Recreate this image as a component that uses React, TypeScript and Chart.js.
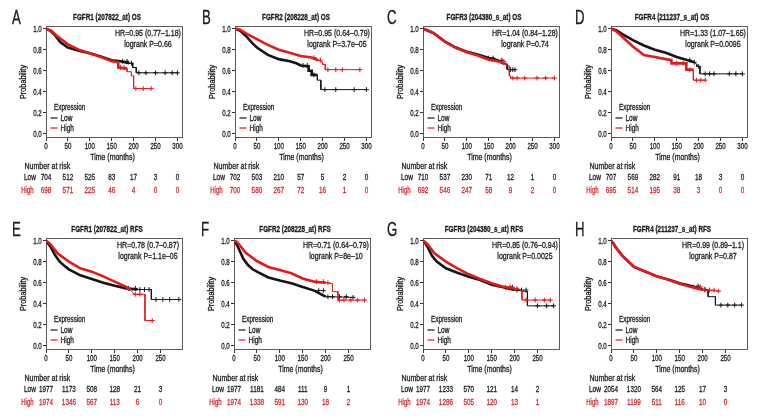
import React, { useEffect, useRef } from "react";
import { Chart, registerables } from "chart.js";
Chart.register(...registerables);

type Pt = [number, number];

const FONT = "'Liberation Sans', Arial, sans-serif";

// ---------------- data ----------------
const LETTERS = ["A", "B", "C", "D", "E", "F", "G", "H"];
const TITLES = [
  "FGFR1 (207822_at) OS",
  "FGFR2 (208228_at) OS",
  "FGFR3 (204380_s_at) OS",
  "FGFR4 (211237_s_at) OS",
  "FGFR1 (207822_at) RFS",
  "FGFR2 (208228_at) RFS",
  "FGFR3 (204380_s_at) RFS",
  "FGFR4 (211237_s_at) RFS",
];
const HR_LABELS = [
  "HR=0.95 (0.77\u20131.18)",
  "HR=0.95 (0.64\u20130.79)",
  "HR=1.04 (0.84\u20131.28)",
  "HR=1.33 (1.07\u20131.65)",
  "HR=0.78 (0.7\u20130.87)",
  "HR=0.71 (0.64\u20130.79)",
  "HR=0.85 (0.76\u20130.94)",
  "HR=0.99 (0.89\u20131.1)",
];
const P_LABELS = [
  "logrank P=0.66",
  "logrank P=3.7e\u201305",
  "logrank P=0.74",
  "logrank P=0.0095",
  "logrank P=1.1e\u201305",
  "logrank P=8e\u201310",
  "logrank P=0.0025",
  "logrank P=0.87",
];
const OS_X_TICKS = [0, 50, 100, 150, 200, 250, 300];
const RFS_X_TICKS = [0, 50, 100, 150, 200, 250];
const Y_TICKS = [0, 0.2, 0.4, 0.6, 0.8, 1.0];
const LEGEND_TITLE = "Expression";
const GROUPS = ["Low", "High"];
const X_LABEL = "Time (months)";
const Y_LABEL = "Probability";
const RISK_TITLE = "Number at risk";

// Panel A: FGFR1 OS
const A_LOW: Pt[] = [[0, 1], [10, 0.98], [20, 0.94], [33, 0.87], [50, 0.82], [75, 0.79], [100, 0.765], [125, 0.735], [150, 0.7], [170, 0.69], [190, 0.67], [198, 0.67], [198, 0.63], [206, 0.63], [206, 0.58], [300, 0.58]];
const A_HIGH: Pt[] = [[0, 1], [12, 0.98], [25, 0.93], [50, 0.85], [75, 0.8], [100, 0.765], [125, 0.73], [150, 0.69], [165, 0.68], [165, 0.63], [185, 0.62], [185, 0.59], [195, 0.59], [195, 0.55], [200, 0.55], [200, 0.43], [240, 0.43]];
const A_LOW_CENS = [175, 185, 195, 212, 228, 250, 272, 288, 300];
const A_HIGH_CENS = [170, 178, 205, 222, 240];
const A_RISK_LOW = [704, 512, 525, 83, 17, 3, 0];
const A_RISK_HIGH = [698, 571, 225, 46, 4, 0, 0];

// Panel B: FGFR2 OS
const B_LOW: Pt[] = [[0, 1], [12, 0.98], [25, 0.93], [40, 0.86], [50, 0.82], [75, 0.75], [100, 0.71], [125, 0.69], [140, 0.67], [150, 0.65], [168, 0.64], [168, 0.6], [175, 0.6], [175, 0.56], [188, 0.56], [188, 0.51], [196, 0.51], [196, 0.42], [300, 0.42]];
const B_HIGH: Pt[] = [[0, 1], [12, 0.99], [25, 0.955], [50, 0.9], [75, 0.845], [100, 0.8], [125, 0.77], [150, 0.74], [175, 0.725], [190, 0.7], [200, 0.68], [200, 0.66], [206, 0.66], [206, 0.61], [285, 0.61]];
const B_LOW_CENS = [155, 165, 180, 205, 230, 272, 300];
const B_HIGH_CENS = [180, 195, 212, 230, 245, 285];
const B_RISK_LOW = [702, 503, 210, 57, 5, 2, 0];
const B_RISK_HIGH = [700, 580, 267, 72, 16, 1, 0];

// Panel C: FGFR3 OS
const C_LOW: Pt[] = [[0, 1], [12, 0.98], [25, 0.955], [50, 0.877], [75, 0.82], [100, 0.78], [125, 0.755], [150, 0.72], [170, 0.7], [185, 0.665], [192, 0.665], [192, 0.61], [210, 0.61]];
const C_HIGH: Pt[] = [[0, 1], [12, 0.98], [25, 0.955], [50, 0.875], [75, 0.818], [100, 0.775], [125, 0.745], [150, 0.705], [175, 0.685], [190, 0.66], [197, 0.645], [197, 0.55], [200, 0.55], [200, 0.53], [300, 0.53]];
const C_LOW_CENS = [150, 160, 180, 200, 205, 210];
const C_HIGH_CENS = [185, 205, 215, 232, 260, 280, 300];
const C_RISK_LOW = [710, 537, 230, 71, 12, 1, 0];
const C_RISK_HIGH = [692, 546, 247, 58, 9, 2, 0];

// Panel D: FGFR4 OS
const D_LOW: Pt[] = [[0, 1], [12, 0.985], [25, 0.95], [50, 0.89], [75, 0.84], [100, 0.8], [125, 0.77], [150, 0.73], [175, 0.7], [190, 0.68], [196, 0.66], [196, 0.64], [203, 0.64], [203, 0.57], [300, 0.57]];
const D_HIGH: Pt[] = [[0, 1], [12, 0.975], [25, 0.925], [50, 0.83], [75, 0.75], [100, 0.73], [125, 0.71], [138, 0.7], [138, 0.67], [172, 0.67], [172, 0.61], [188, 0.61], [188, 0.51], [215, 0.51]];
const D_LOW_CENS = [180, 190, 200, 215, 225, 235, 270, 285, 300];
const D_HIGH_CENS = [150, 165, 180, 195, 205, 215];
const D_RISK_LOW = [707, 569, 282, 91, 18, 3, 0];
const D_RISK_HIGH = [695, 514, 195, 38, 3, 0, 0];

// Panel E: FGFR1 RFS
const E_LOW: Pt[] = [[0, 1], [5, 0.97], [10, 0.94], [20, 0.86], [30, 0.8], [40, 0.76], [50, 0.727], [75, 0.67], [100, 0.635], [125, 0.6], [150, 0.57], [175, 0.546], [200, 0.535], [230, 0.535], [230, 0.44], [290, 0.44]];
const E_HIGH: Pt[] = [[0, 1], [5, 0.985], [10, 0.965], [25, 0.88], [50, 0.8], [75, 0.737], [100, 0.705], [125, 0.66], [150, 0.61], [175, 0.56], [185, 0.53], [192, 0.49], [216, 0.49], [216, 0.24], [232, 0.24]];
const E_LOW_CENS = [180, 195, 205, 215, 225, 240, 255, 270, 290];
const E_HIGH_CENS = [195, 205, 232];
const E_RISK_LOW = [1977, 1173, 508, 128, 21, 3];
const E_RISK_HIGH = [1974, 1346, 567, 113, 6, 0];

// Panel F: FGFR2 RFS
const F_LOW: Pt[] = [[0, 1], [5, 0.97], [10, 0.927], [20, 0.83], [30, 0.77], [40, 0.73], [50, 0.705], [75, 0.65], [100, 0.62], [125, 0.594], [150, 0.56], [175, 0.525], [200, 0.467], [260, 0.46]];
const F_HIGH: Pt[] = [[0, 1], [5, 0.99], [10, 0.97], [25, 0.886], [50, 0.806], [75, 0.75], [100, 0.72], [125, 0.69], [150, 0.64], [175, 0.61], [200, 0.6], [215, 0.59], [215, 0.515], [227, 0.515], [227, 0.435], [285, 0.435]];
const F_LOW_CENS = [185, 195, 205, 215, 230, 245, 260];
const F_HIGH_CENS = [180, 195, 205, 230, 240, 255, 270, 285];
const F_RISK_LOW = [1977, 1181, 484, 111, 9, 1];
const F_RISK_HIGH = [1974, 1338, 591, 130, 18, 2];

// Panel G: FGFR3 RFS
const G_LOW: Pt[] = [[0, 1], [5, 0.975], [10, 0.94], [20, 0.854], [30, 0.8], [50, 0.737], [75, 0.695], [100, 0.657], [125, 0.625], [150, 0.58], [175, 0.556], [200, 0.53], [228, 0.515], [228, 0.38], [285, 0.38]];
const G_HIGH: Pt[] = [[0, 1], [5, 0.985], [10, 0.965], [25, 0.88], [50, 0.8], [75, 0.737], [100, 0.68], [125, 0.635], [150, 0.594], [175, 0.562], [200, 0.546], [216, 0.53], [216, 0.435], [278, 0.435]];
const G_LOW_CENS = [180, 195, 205, 215, 225, 250, 270, 285];
const G_HIGH_CENS = [190, 205, 225, 245, 265, 278];
const G_RISK_LOW = [1977, 1233, 570, 121, 14, 2];
const G_RISK_HIGH = [1974, 1286, 505, 120, 13, 1];

// Panel H: FGFR4 RFS
const H_LOW: Pt[] = [[0, 1], [5, 0.975], [10, 0.94], [25, 0.854], [50, 0.75], [75, 0.705], [100, 0.66], [125, 0.63], [150, 0.594], [175, 0.568], [200, 0.537], [212, 0.535], [212, 0.467], [228, 0.467], [228, 0.387], [285, 0.387]];
const H_HIGH: Pt[] = [[0, 1], [5, 0.975], [10, 0.94], [25, 0.855], [50, 0.752], [75, 0.706], [100, 0.662], [125, 0.628], [150, 0.59], [175, 0.56], [200, 0.53], [235, 0.52]];
const H_LOW_CENS = [190, 205, 240, 255, 270, 285];
const H_HIGH_CENS = [180, 195, 205, 215, 225, 235];
const H_RISK_LOW = [2054, 1320, 564, 125, 17, 3];
const H_RISK_HIGH = [1897, 1199, 511, 116, 10, 0];

const LOWS = [A_LOW, B_LOW, C_LOW, D_LOW, E_LOW, F_LOW, G_LOW, H_LOW];
const HIGHS = [A_HIGH, B_HIGH, C_HIGH, D_HIGH, E_HIGH, F_HIGH, G_HIGH, H_HIGH];
const LOW_CENS = [A_LOW_CENS, B_LOW_CENS, C_LOW_CENS, D_LOW_CENS, E_LOW_CENS, F_LOW_CENS, G_LOW_CENS, H_LOW_CENS];
const HIGH_CENS = [A_HIGH_CENS, B_HIGH_CENS, C_HIGH_CENS, D_HIGH_CENS, E_HIGH_CENS, F_HIGH_CENS, G_HIGH_CENS, H_HIGH_CENS];
const RISK_LOWS = [A_RISK_LOW, B_RISK_LOW, C_RISK_LOW, D_RISK_LOW, E_RISK_LOW, F_RISK_LOW, G_RISK_LOW, H_RISK_LOW];
const RISK_HIGHS = [A_RISK_HIGH, B_RISK_HIGH, C_RISK_HIGH, D_RISK_HIGH, E_RISK_HIGH, F_RISK_HIGH, G_RISK_HIGH, H_RISK_HIGH];

// ---------------- layout ----------------
const CW = 188;
const CH = 208;
const AXIS_W = 46;
const BOX_TOP = 26;
const BOX_BOTTOM = 138;
const XAXIS_H = 14;
const LEFTS = [0, 189, 377, 565, 0, 188, 377, 565];
const TOPS = [0, 0, 0, 0, 212, 212, 212, 212];
const LETTER_X = [12, 13, 10, 10, 12, 13, 10, 10];
const RED = "#e31a1c";
const RED_TEXT = "#d7262b";
const BLACK = "#151515";
const TEXT = "#1a1a1a";

function valueAt(curve: Pt[], t: number) {
  let v = curve[0][1];
  for (const [x, y] of curve) {
    if (x <= t) v = y;
    else break;
  }
  return v;
}

// condensed text: draws with a horizontal squeeze and a hairline stroke for weight
function txt(ctx: CanvasRenderingContext2D, s: string, x: number, y: number, align: CanvasTextAlign, sx: number) {
  ctx.save();
  ctx.translate(x, y);
  ctx.scale(sx, 1);
  ctx.textAlign = align;
  ctx.fillText(s, 0, 0);
  ctx.strokeStyle = ctx.fillStyle as string;
  ctx.lineWidth = 0.3;
  ctx.strokeText(s, 0, 0);
  ctx.restore();
}

function Panel({ i }: { i: number }) {
  const ref = useRef<HTMLCanvasElement>(null);
  useEffect(() => {
    const isOS = i < 4;
    const xTicks = isOS ? OS_X_TICKS : RFS_X_TICKS;
    const xMax = isOS ? 312.7 : 298;
    const boxW = isOS ? 138 : 136.5;
    const low = LOWS[i];
    const high = HIGHS[i];
    const font = (size: number, weight = "normal") => `${weight} ${size}px ${FONT}`;

    const textPlugin = {
      id: "kmText",
      beforeDatasetsDraw(chart: any) {
        const ctx = chart.ctx;
        const ca = chart.chartArea;
        ctx.save();
        ctx.strokeStyle = "#5a5a5a";
        ctx.lineWidth = 1;
        ctx.strokeRect(Math.round(ca.left) + 0.5, Math.round(ca.top) + 0.5, Math.round(ca.right - ca.left) - 1, Math.round(ca.bottom - ca.top) - 1);
        ctx.restore();
      },
      afterDraw(chart: any) {
        const ctx: CanvasRenderingContext2D = chart.ctx;
        const xs = chart.scales.x;
        const ys = chart.scales.y;
        const ca = chart.chartArea;
        const x0 = AXIS_W;
        ctx.save();
        ctx.fillStyle = TEXT;
        ctx.textBaseline = "alphabetic";
        // tick labels
        ctx.font = font(8.8);
        xTicks.forEach((t) => txt(ctx, String(t), xs.getPixelForValue(t), ca.bottom + 10.8, "center", 0.7));
        Y_TICKS.forEach((v) => txt(ctx, v.toFixed(1), ca.left - 4.3, ys.getPixelForValue(v) + 3.1, "right", 0.7));
        // panel letter
        ctx.font = font(20);
        txt(ctx, LETTERS[i], LETTER_X[i], 23.5, "left", 0.66);
        // title
        ctx.font = font(8.8, "bold");
        txt(ctx, TITLES[i], x0 + 61, 19.5, "center", 0.72);
        // HR text
        ctx.font = font(8.8);
        txt(ctx, HR_LABELS[i], x0 + 102, 36, "center", 0.8);
        txt(ctx, P_LABELS[i], x0 + 102, 46.5, "center", 0.8);
        // y label
        ctx.save();
        ctx.translate(25.5, 82);
        ctx.rotate(-Math.PI / 2);
        txt(ctx, Y_LABEL, 0, 0, "center", 0.83);
        ctx.restore();
        // legend
        txt(ctx, LEGEND_TITLE, x0 + 8, 109.5, "left", 0.72);
        const legY = [118, 128];
        const legC = [BLACK, RED];
        for (let g = 0; g < 2; g++) {
          ctx.strokeStyle = legC[g];
          ctx.lineWidth = 1.2;
          ctx.beginPath();
          ctx.moveTo(x0 + 4.5, legY[g]);
          ctx.lineTo(x0 + 11.5, legY[g]);
          ctx.stroke();
          ctx.fillStyle = TEXT;
          txt(ctx, GROUPS[g], x0 + 14.5, legY[g] + 3.2, "left", 0.74);
        }
        // x label
        txt(ctx, X_LABEL, x0 + 66.5, 159.5, "center", 0.79);
        // risk table
        txt(ctx, RISK_TITLE, 24.5, 169, "left", 0.8);
        txt(ctx, GROUPS[0], 24, 180, "left", 0.74);
        ctx.fillStyle = RED_TEXT;
        txt(ctx, GROUPS[1], 21.3, 193.3, "left", 0.68);
        xTicks.forEach((t, k) => {
          const px = xs.getPixelForValue(t);
          ctx.fillStyle = TEXT;
          txt(ctx, String(RISK_LOWS[i][k]), px, 180, "center", 0.72);
          ctx.fillStyle = RED_TEXT;
          txt(ctx, String(RISK_HIGHS[i][k]), px, 193.3, "center", 0.72);
        });
        ctx.restore();
      },
    };

    const thick = (c: any) => (c.p0.parsed.x < 185 ? 2.6 : 1);
    const chart = new Chart(ref.current as HTMLCanvasElement, {
      type: "line",
      data: {
        datasets: [
          {
            label: "High",
            data: high.map(([x, y]) => ({ x, y })),
            borderColor: RED,
            borderWidth: 1,
            pointRadius: 0,
            tension: 0,
            segment: { borderWidth: thick },
          } as any,
          {
            label: "High censored",
            data: HIGH_CENS[i].map((t) => ({ x: t, y: valueAt(high, t) })),
            showLine: false,
            pointStyle: "cross",
            pointRadius: 2.4,
            pointBorderWidth: 1,
            borderColor: RED,
            backgroundColor: RED,
          },
          {
            label: "Low",
            data: low.map(([x, y]) => ({ x, y })),
            borderColor: BLACK,
            borderWidth: 1,
            pointRadius: 0,
            tension: 0,
            segment: { borderWidth: thick },
          } as any,
          {
            label: "Low censored",
            data: LOW_CENS[i].map((t) => ({ x: t, y: valueAt(low, t) })),
            showLine: false,
            pointStyle: "cross",
            pointRadius: 2.4,
            pointBorderWidth: 1,
            borderColor: BLACK,
            backgroundColor: BLACK,
          },
        ],
      },
      options: {
        animation: false,
        responsive: false,
        maintainAspectRatio: false,
        layout: {
          padding: { left: 0, top: BOX_TOP, right: CW - AXIS_W - boxW, bottom: CH - BOX_BOTTOM - XAXIS_H },
        },
        plugins: { legend: { display: false }, tooltip: { enabled: false }, title: { display: false } },
        scales: {
          x: {
            type: "linear",
            min: 0,
            max: xMax,
            afterBuildTicks: (s: any) => {
              s.ticks = xTicks.map((v) => ({ value: v }));
            },
            afterFit: (s: any) => {
              s.height = XAXIS_H;
              s.paddingLeft = 0;
              s.paddingRight = 0;
            },
            grid: { display: true, drawOnChartArea: false, drawTicks: true, tickLength: 3, color: "#333" },
            border: { display: false },
            ticks: { display: false, autoSkip: false },
          },
          y: {
            type: "linear",
            min: -0.04,
            max: 1.025,
            afterBuildTicks: (s: any) => {
              s.ticks = Y_TICKS.map((v) => ({ value: v }));
            },
            afterFit: (s: any) => {
              s.width = AXIS_W;
              s.paddingTop = 0;
              s.paddingBottom = 0;
            },
            grid: { display: true, drawOnChartArea: false, drawTicks: true, tickLength: 3, color: "#333" },
            border: { display: false },
            ticks: { display: false },
          },
        },
      },
      plugins: [textPlugin],
    });
    return () => chart.destroy();
  }, [i]);
  return (
    <canvas
      ref={ref}
      width={CW}
      height={CH}
      style={{ position: "absolute", left: LEFTS[i], top: TOPS[i], width: CW, height: CH }}
    />
  );
}

export default function App() {
  return (
    <div style={{ position: "absolute", left: 0, top: 0, width: 768, height: 420, background: "#fff", overflow: "hidden" }}>
      {LETTERS.map((_, i) => (
        <Panel key={i} i={i} />
      ))}
    </div>
  );
}
